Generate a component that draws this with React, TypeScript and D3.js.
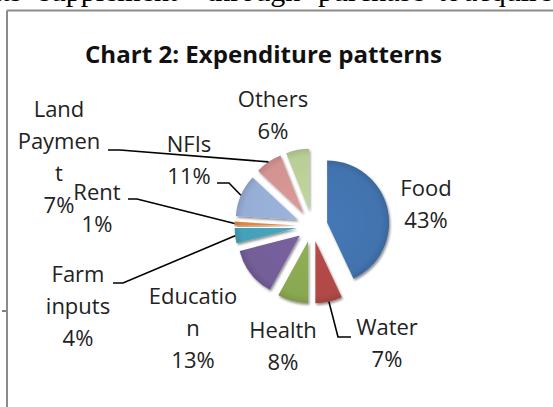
import React from 'react';
import * as d3 from 'd3';

const categories = ['Food', 'Water', 'Health', 'Education', 'Farm inputs', 'Rent', 'NFIs', 'Land Payment', 'Others'];
const values = [43, 7, 8, 13, 4, 1, 11, 7, 6];
const nameLines = [['Food'], ['Water'], ['Health'], ['Educatio', 'n'], ['Farm', 'inputs'], ['Rent'], ['NFIs'], ['Land', 'Paymen', 't'], ['Others']];
const colors = ['#4273AE', '#B04946', '#8AA851', '#745E98', '#44A0B8', '#E0843C', '#96ADD5', '#D39391', '#B9CE96'];
const title = 'Chart 2: Expenditure patterns';
const topWords = [
  { w: 'requirements', x: -135 },
  { w: 'supplement', x: 39 },
  { w: 'through', x: 207 },
  { w: 'purchase', x: 318 },
  { w: 'to', x: 438 },
  { w: 'acquire', x: 464 },
];

// layout of the labels: center x, first baseline, leader anchor points (label side)
const labelPos = [
  { x: 426, y: 196, lead: null },
  { x: 387, y: 335, lead: [[351, 337], [338, 337]] },
  { x: 283, y: 338, lead: null },
  { x: 193, y: 304, lead: null },
  { x: 78, y: 282, lead: [[113, 283], [123, 283]] },
  { x: 97, y: 200, lead: [[128, 199], [137, 199]] },
  { x: 189, y: 152, lead: [[217, 183], [229, 183]] },
  { x: 59, y: 117, lead: [[108, 150], [120, 150]] },
  { x: 273, y: 107, lead: null },
];

const W = 553, H = 407;
const cx = 312, cy = 226, R = 62, EXPLODE = 15.5, LH = 32;

export default function App() {
  const pie = d3.pie<number>().sort(null).value((d) => d).startAngle(0).endAngle(2 * Math.PI);
  const arcs = pie(values);
  const arcGen = d3.arc<d3.PieArcDatum<number>>().innerRadius(0).outerRadius(R);
  const total = d3.sum(values);
  const fmt = d3.format('.0%');

  return (
    <svg width={W} height={H} style={{ position: 'absolute', left: 0, top: 0, background: '#fff' }}>
      <defs>
        <filter id="sh" x="-20%" y="-20%" width="150%" height="150%">
          <feDropShadow dx="1.2" dy="1.8" stdDeviation="1.1" floodColor="#000" floodOpacity="0.45" />
        </filter>
        {colors.map((c, i) => (
          <radialGradient key={i} id={`g${i}`} cx={0} cy={0} r={R} gradientUnits="userSpaceOnUse">
            <stop offset="0%" stopColor={d3.color(c)!.brighter(0.12).formatHex()} />
            <stop offset="88%" stopColor={c} />
            <stop offset="100%" stopColor={d3.color(c)!.darker(0.3).formatHex()} />
          </radialGradient>
        ))}
      </defs>

      {/* cut-off document text above the chart */}
      <g fontFamily="'Liberation Serif', 'Times New Roman', serif" fontSize={30} fill="#000">
        {topWords.map((t, i) => (
          <text key={i} x={t.x} y={1}>{t.w}</text>
        ))}
      </g>

      {/* chart frame */}
      <line x1={7} y1={10.5} x2={W} y2={10.5} stroke="#8c8c8c" strokeWidth={2} />
      <line x1={7} y1={10.5} x2={7} y2={H} stroke="#8c8c8c" strokeWidth={2} />
      <line x1={2} y1={311} x2={6} y2={311} stroke="#000" strokeWidth={1} />

      <text x={85} y={63} textLength={357} lengthAdjust="spacingAndGlyphs" fontFamily="'Open Sans', sans-serif" fontWeight={700} fontSize={23.5} fill="#111">
        {title}
      </text>

      {/* slices */}
      {arcs.map((a, i) => {
        const mid = (a.startAngle + a.endAngle) / 2;
        const dx = EXPLODE * Math.sin(mid);
        const dy = -EXPLODE * Math.cos(mid);
        return (
          <g key={categories[i]} transform={`translate(${cx + dx},${cy + dy})`} filter="url(#sh)">
            <path d={arcGen(a) || ''} fill={`url(#g${i})`} />
          </g>
        );
      })}

      {/* leader lines */}
      {arcs.map((a, i) => {
        const lp = labelPos[i];
        if (!lp.lead) return null;
        const mid = (a.startAngle + a.endAngle) / 2;
        const ox = cx + EXPLODE * Math.sin(mid);
        const oy = cy - EXPLODE * Math.cos(mid);
        const px = ox + R * Math.sin(mid);
        const py = oy - R * Math.cos(mid);
        const pts: [number, number][] = [...(lp.lead as [number, number][]), [px, py]];
        return <path key={i} d={d3.line()(pts) || ''} fill="none" stroke="#000" strokeWidth={1.6} />;
      })}

      {/* labels */}
      <g fontFamily="'Open Sans', sans-serif" fontSize={22} fill="#222" textAnchor="middle">
        {values.map((v, i) => {
          const lines = [...nameLines[i], fmt(v / total)];
          const lp = labelPos[i];
          return (
            <text key={i}>
              {lines.map((l, j) => (
                <tspan key={j} x={lp.x} y={lp.y + j * LH}>{l}</tspan>
              ))}
            </text>
          );
        })}
      </g>
    </svg>
  );
}
